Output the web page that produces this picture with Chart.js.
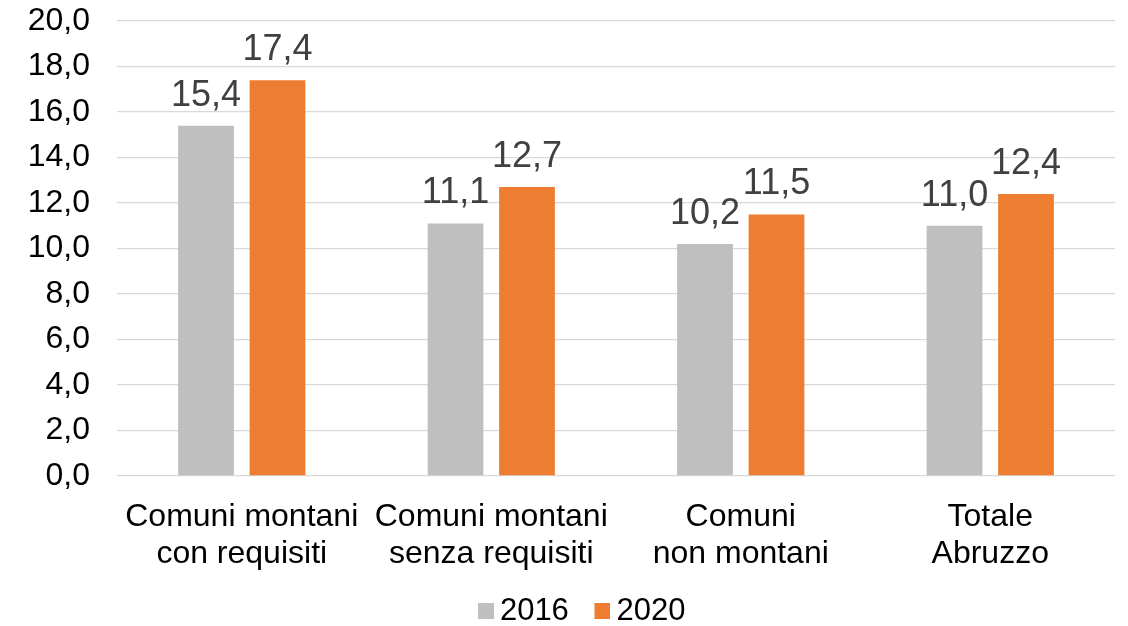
<!DOCTYPE html>
<html>
<head>
<meta charset="utf-8">
<script src="https://cdn.jsdelivr.net/npm/chart.js@4.4.1/dist/chart.umd.min.js"></script>
<style>
  html, body { margin: 0; padding: 0; background: #ffffff; overflow: hidden; }
  #wrap { width: 1128px; height: 626px; }
</style>
</head>
<body>
<div id="wrap"><canvas id="c" width="1128" height="626"></canvas></div>
<script>
const categories = [
  ["Comuni montani", "con requisiti"],
  ["Comuni montani", "senza requisiti"],
  ["Comuni", "non montani"],
  ["Totale", "Abruzzo"]
];
const seriesNames = ["2016", "2020"];
const values2016 = [15.4, 11.1, 10.2, 11.0];
const values2020 = [17.4, 12.7, 11.5, 12.4];
const seriesColors = ['#BFBFBF', '#ED7D31'];
const yTicks = { min: 0, max: 20, step: 2 };

const FONT = "'Liberation Sans', Arial, Helvetica, sans-serif";
const LEGEND_FONT_SIZE = 31;
const fmt = v => v.toFixed(1).replace('.', ',');

// legend swatches (drawn as point-style images so the swatch sits close to its text)
const LEAD = '   ';
const TRAIL = ' ';
const mctx = document.createElement('canvas').getContext('2d');
mctx.font = LEGEND_FONT_SIZE + 'px ' + FONT;
const leadW = mctx.measureText(LEAD).width;
function swatch(color, sp) {
  const c = document.createElement('canvas');
  c.width = Math.round(2 * sp + 20);
  c.height = 16;
  const g = c.getContext('2d');
  g.fillStyle = color;
  g.fillRect(c.width - 16, 0, 16, 16);
  return c;
}
const swatches = [swatch(seriesColors[0], leadW), swatch(seriesColors[1], 0)];

const valueLabels = {
  id: 'valueLabels',
  afterDatasetsDraw(chart) {
    const ctx = chart.ctx;
    ctx.save();
    ctx.font = "36px " + FONT;
    ctx.fillStyle = "#404040";
    ctx.textAlign = "center";
    ctx.textBaseline = "alphabetic";
    chart.data.datasets.forEach((ds, i) => {
      const meta = chart.getDatasetMeta(i);
      meta.data.forEach((bar, j) => {
        ctx.fillText(fmt(ds.data[j]), bar.x, bar.y - 20);
      });
    });
    ctx.restore();
  }
};

new Chart(document.getElementById('c'), {
  type: 'bar',
  data: {
    labels: categories,
    datasets: [
      { label: seriesNames[0], data: values2016, backgroundColor: seriesColors[0],
        barPercentage: 0.78, categoryPercentage: 0.573 },
      { label: seriesNames[1], data: values2020, backgroundColor: seriesColors[1],
        barPercentage: 0.78, categoryPercentage: 0.573 }
    ]
  },
  options: {
    responsive: false,
    animation: false,
    devicePixelRatio: 1,
    layout: { padding: { top: 0, left: 28, right: 13, bottom: -10.5 } },
    plugins: {
      tooltip: { enabled: false },
      legend: {
        position: 'bottom',
        labels: {
          usePointStyle: true,
          boxWidth: 1, boxHeight: 16,
          padding: 22.5,
          color: '#000000',
          font: { family: FONT, size: LEGEND_FONT_SIZE },
          generateLabels(chart) {
            const items = Chart.defaults.plugins.legend.labels.generateLabels(chart);
            items.forEach((it, i) => {
              it.pointStyle = swatches[i];
              if (i === 0) it.text = LEAD + it.text + TRAIL;
            });
            return items;
          }
        }
      }
    },
    scales: {
      x: {
        grid: { display: false, drawTicks: false },
        border: { display: false },
        afterFit(scale) {
          scale.height = 97;
          scale.paddingLeft = 0;
          scale.paddingRight = 0;
          scale.paddingTop = 0;
          scale.paddingBottom = 0;
        },
        ticks: {
          color: '#000000',
          padding: 22.5,
          maxRotation: 0,
          minRotation: 0,
          autoSkip: false,
          font: { family: FONT, size: 32, lineHeight: 1.156 }
        }
      },
      y: {
        min: yTicks.min, max: yTicks.max,
        grid: { color: '#D9D9D9', lineWidth: 1.3, drawTicks: false },
        border: { display: false },
        afterFit(scale) {
          scale.width = 89;
          scale.paddingTop = 21;
          scale.paddingBottom = 0;
          scale.paddingLeft = 0;
          scale.paddingRight = 0;
        },
        ticks: {
          stepSize: yTicks.step,
          autoSkip: false,
          color: '#000000',
          padding: 27,
          font: { family: FONT, size: 32 },
          callback: v => fmt(v)
        }
      }
    }
  },
  plugins: [valueLabels]
});
</script>
</body>
</html>
